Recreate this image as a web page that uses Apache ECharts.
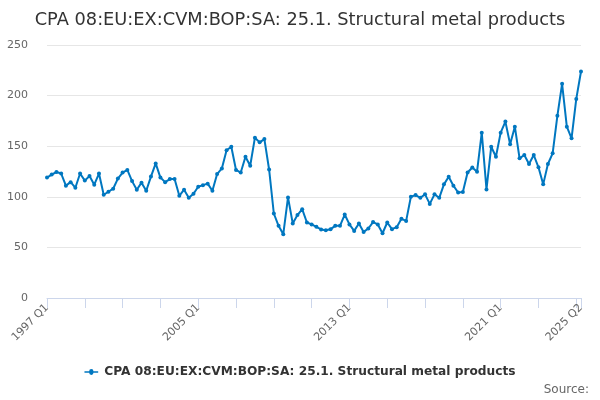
<!DOCTYPE html>
<html><head><meta charset="utf-8">
<script src="https://cdn.jsdelivr.net/npm/echarts@6/dist/echarts.min.js"></script>
<style>html,body{margin:0;padding:0;background:#fff}#c{width:600px;height:400px}</style>
</head><body><div id="c"></div>
<script>
const title = "CPA 08:EU:EX:CVM:BOP:SA: 25.1. Structural metal products";
const seriesName = "CPA 08:EU:EX:CVM:BOP:SA: 25.1. Structural metal products";
const quarters = [];
for (let y = 1997; y <= 2025; y++) for (let q = 1; q <= 4; q++) { if (y === 2025 && q > 2) break; quarters.push(y + " Q" + q); }
const values = [
 119,122,124.5,123,111,114.5,109,123,116,120.5,112,123,102,105,108,118,
 124,126.5,115.5,107,114,106,120,133,119,114.5,117.5,117.5,101,107,99,103,
 110,111.5,113,106,122.5,128,146,149.5,126.5,124,139.5,130.7,158.4,153.8,157,127,
 83.5,71.3,63,99.4,73.7,82,87.8,74.6,72.7,70.3,67.7,67,68,71.3,71.3,82.5,
 72.7,66.3,73.7,65.3,68.7,75,72.7,64,74.6,68,70,78.2,76.2,100,101.7,99,
 102.4,93,102.4,99,112.3,119.8,111,104.3,104.7,124,129,124.8,163.4,107.3,149.5,139.6,
 163.4,174.3,151.9,169.3,138,141.3,132.4,141.3,129.1,112.3,132.4,143,180,211.6,169.3,157.8,
 196.7,223.8
];
const yTicks = [0, 50, 100, 150, 200, 250];
const font = "DejaVu Sans, Verdana, sans-serif";
const last = quarters.length - 1;
const chart = echarts.init(document.getElementById('c'));
chart.setOption({
  animation: false,
  title: { text: title, left: 'center', top: 6, textStyle: { fontFamily: font, fontSize: 17.8, fontWeight: 'normal', color: '#333333' } },
  grid: { left: 47, right: 19, top: 45, bottom: 102, containLabel: false },
  xAxis: {
    type: 'category', data: quarters, boundaryGap: false,
    axisLine: { lineStyle: { color: '#ccd6eb' } },
    axisTick: { length: 10, lineStyle: { color: '#ccd6eb' }, interval: (i) => i % 8 === 0 || i === last },
    axisLabel: { rotate: 45, color: '#666666', fontFamily: font, fontSize: 11, margin: 8,
      interval: (i) => i % 32 === 0 || i === last },
    splitLine: { show: false }
  },
  yAxis: {
    type: 'value', min: yTicks[0], max: yTicks[yTicks.length - 1], interval: 50,
    axisLine: { show: false }, axisTick: { show: false },
    axisLabel: { color: '#666666', fontFamily: font, fontSize: 11, margin: 19 },
    splitLine: { lineStyle: { color: '#e6e6e6' } }
  },
  legend: { bottom: 17, left: 'center', itemWidth: 16, itemHeight: 6, itemGap: 5,
    icon: 'path://M0,2 L5.5,2 A2.5,2.5 0 1 1 10.5,2 L16,2 L16,4 L10.5,4 A2.5,2.5 0 1 1 5.5,4 L0,4 Z',
    textStyle: { fontFamily: font, fontSize: 12.2, fontWeight: 'bold', color: '#333333' } },
  graphic: [{ type: 'text', right: 11, bottom: 4, style: { text: 'Source:', fontFamily: font, fontSize: 12, fill: '#666666' } }],
  series: [{
    name: seriesName, type: 'line', data: values,
    symbol: 'circle', symbolSize: 4, showSymbol: true, showAllSymbol: true,
    lineStyle: { width: 2, color: '#0077c0' }, itemStyle: { color: '#0077c0' }
  }]
});
</script></body></html>
